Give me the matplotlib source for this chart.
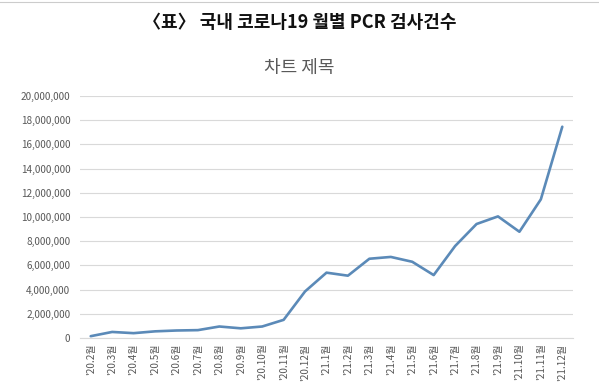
import matplotlib
matplotlib.use("Agg")
import matplotlib.pyplot as plt
from matplotlib.ticker import FuncFormatter

plt.rcParams['font.family'] = ['Noto Sans CJK KR', 'DejaVu Sans']

months = ["'20.2월", "'20.3월", "'20.4월", "'20.5월", "'20.6월", "'20.7월", "'20.8월",
          "'20.9월", "'20.10월", "'20.11월", "'20.12월", "'21.1월", "'21.2월", "'21.3월",
          "'21.4월", "'21.5월", "'21.6월", "'21.7월", "'21.8월", "'21.9월", "'21.10월",
          "'21.11월", "'21.12월"]
tests = [150000, 500000, 400000, 550000, 620000, 650000, 950000, 800000, 950000,
         1500000, 3850000, 5400000, 5150000, 6550000, 6700000, 6300000, 5200000,
         7600000, 9420000, 10050000, 8780000, 11460000, 17460000]

fig = plt.figure(figsize=(5.99, 3.92), dpi=100)
ax = fig.add_axes([80/599, (392-338)/392, (573-80)/599, (338-96)/392])

x = list(range(len(months)))
ax.plot(x, tests, color='#5b8ab8', linewidth=1.9, solid_capstyle='round')

ax.set_xlim(-0.5, len(months) - 0.5)
ax.set_ylim(0, 20000000)
ax.set_yticks(range(0, 20000001, 2000000))
ax.yaxis.set_major_formatter(FuncFormatter(lambda v, p: f"{int(v):,}"))
ax.set_xticks(x)
ax.set_xticklabels(months, rotation=90, fontsize=7.2, color='#595959')
ax.tick_params(axis='y', labelsize=7.2, colors='#595959', length=0, pad=7)
ax.tick_params(axis='x', length=0, pad=4)
ax.grid(axis='y', color='#d9d9d9', linewidth=0.8)
ax.set_axisbelow(True)
for s in ['top', 'right', 'left']:
    ax.spines[s].set_visible(False)
ax.spines['bottom'].set_color('#d9d9d9')

fig.text(0.5, 1 - 22/392, "〈표〉 국내 코로나19 월별 PCR 검사건수", ha='center', va='center',
         fontsize=13, fontweight='bold', color='#111111')
fig.text(0.5, 1 - 68/392, "차트 제목", ha='center', va='center', fontsize=13, color='#595959')
fig.add_artist(plt.Line2D([0, 1], [1 - 2/392, 1 - 2/392], color='#cccccc', linewidth=0.8))

fig.savefig("out.png", dpi=100, facecolor='white')
